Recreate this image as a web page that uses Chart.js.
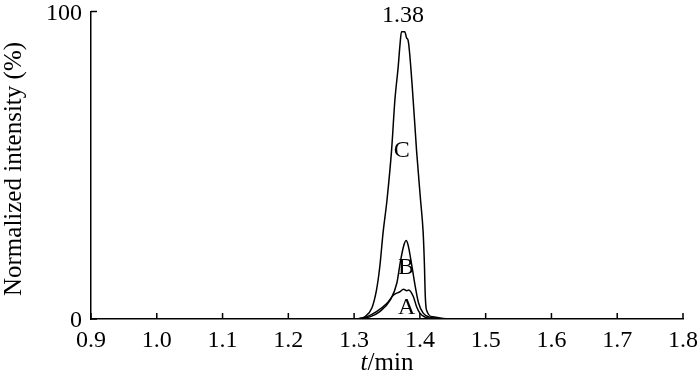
<!DOCTYPE html>
<html>
<head>
<meta charset="utf-8">
<title>Normalized intensity chromatogram</title>
<script src="https://cdn.jsdelivr.net/npm/chart.js"></script>
<style>
  html, body { margin: 0; padding: 0; background: #fff; }
  #wrap { width: 700px; height: 386px; }
</style>
</head>
<body>
<div id="wrap"><canvas id="peakChart"></canvas></div>
<script>
// retention times (min) and normalized intensity (%)
const timeA = [1.305, 1.319, 1.334, 1.350, 1.360, 1.370, 1.375, 1.380, 1.383, 1.390, 1.395, 1.400, 1.408, 1.418, 1.430];
const valueA = [0, 0.7, 2.4, 5.1, 7.8, 8.9, 9.7, 9.2, 9.4, 7.3, 4.0, 1.9, 0.6, 0.1, 0];

const timeB = [1.305, 1.313, 1.324, 1.339, 1.355, 1.365, 1.370, 1.375, 1.379, 1.382, 1.388, 1.393, 1.398, 1.405, 1.415, 1.431, 1.440];
const valueB = [0, 0.3, 0.7, 2.4, 6.2, 11.7, 18.2, 23.5, 25.5, 24.1, 17.0, 10.5, 5.2, 1.9, 0.6, 0.1, 0];

const timeC = [1.305, 1.316, 1.327, 1.334, 1.339, 1.344, 1.350, 1.357, 1.362, 1.367, 1.370, 1.372, 1.377, 1.380, 1.382, 1.388, 1.395, 1.401, 1.405, 1.407, 1.408, 1.410, 1.420, 1.443];
const valueC = [0, 0.7, 3.6, 9.4, 16.9, 28.0, 38.7, 55.0, 71.2, 82.0, 89.8, 93.4, 93.4, 91.3, 90.7, 76.7, 54.6, 38.7, 28.0, 16.9, 8.5, 2.9, 0.7, 0];

const xTicks = [0.9, 1.0, 1.1, 1.2, 1.3, 1.4, 1.5, 1.6, 1.7, 1.8];
const yTicks = [0, 100];

// text labels placed at data coordinates
const peakLabels = [
  { text: '1.38', x: 1.3745, y: 98.5 },
  { text: 'C', x: 1.3723, y: 54.6 },
  { text: 'B', x: 1.3789, y: 16.6 },
  { text: 'A', x: 1.3800, y: 3.6 }
];

const serif = '"Liberation Serif", "DejaVu Serif", serif';

function toPoints(times, values) {
  return times.map((t, i) => ({ x: t, y: values[i] }));
}

function lineSet(label, times, values) {
  return {
    label: label,
    data: toPoints(times, values),
    borderColor: '#000',
    borderWidth: 1.5,
    pointRadius: 0,
    fill: false,
    cubicInterpolationMode: 'monotone'
  };
}

// inward tick marks, annotations and axis titles
const decorations = {
  id: 'decorations',
  afterDraw(chart) {
    const ctx = chart.ctx;
    const xs = chart.scales.x;
    const ys = chart.scales.y;
    const area = chart.chartArea;
    ctx.save();
    ctx.strokeStyle = '#000';
    ctx.lineWidth = 1.5;
    ctx.beginPath();
    xTicks.forEach(v => {
      const px = xs.getPixelForValue(v);
      ctx.moveTo(px, area.bottom);
      ctx.lineTo(px, area.bottom - 6);
    });
    yTicks.forEach(v => {
      const py = ys.getPixelForValue(v);
      ctx.moveTo(area.left, py);
      ctx.lineTo(area.left + 6, py);
    });
    ctx.stroke();

    ctx.fillStyle = '#000';
    ctx.textAlign = 'center';
    ctx.textBaseline = 'middle';
    ctx.font = '24px ' + serif;
    peakLabels.forEach(l => {
      ctx.fillText(l.text, xs.getPixelForValue(l.x), ys.getPixelForValue(l.y));
    });

    // x title: italic t + /min
    const cx = (area.left + area.right) / 2;
    ctx.textBaseline = 'alphabetic';
    ctx.textAlign = 'left';
    ctx.font = 'italic 25px ' + serif;
    const wT = ctx.measureText('t').width;
    ctx.font = '25px ' + serif;
    const wRest = ctx.measureText('/min').width;
    const startX = cx - (wT + wRest) / 2;
    ctx.font = 'italic 25px ' + serif;
    ctx.fillText('t', startX, 370);
    ctx.font = '25px ' + serif;
    ctx.fillText('/min', startX + wT, 370);

    // y title
    ctx.translate(14, 169);
    ctx.rotate(-Math.PI / 2);
    ctx.textAlign = 'center';
    ctx.textBaseline = 'middle';
    ctx.font = '25px ' + serif;
    ctx.fillText('Normalized intensity (%)', 0, 0);
    ctx.restore();
  }
};

new Chart(document.getElementById('peakChart'), {
  type: 'line',
  data: {
    datasets: [
      lineSet('A', timeA, valueA),
      lineSet('B', timeB, valueB),
      lineSet('C', timeC, valueC)
    ]
  },
  options: {
    responsive: true,
    maintainAspectRatio: false,
    animation: false,
    layout: { padding: { top: 11.5, right: 17, left: 0, bottom: 0 } },
    plugins: {
      legend: { display: false },
      tooltip: { enabled: false }
    },
    scales: {
      x: {
        type: 'linear',
        min: 0.9,
        max: 1.8,
        afterFit(scale) {
          scale.height = 67;
          scale.paddingLeft = 0;
          scale.paddingRight = 0;
        },
        afterBuildTicks(scale) { scale.ticks = xTicks.map(v => ({ value: v })); },
        grid: { display: true, drawOnChartArea: false, drawTicks: false },
        border: { display: true, color: '#000', width: 1.5 },
        ticks: {
          color: '#000',
          padding: 7,
          maxRotation: 0,
          autoSkip: false,
          font: { family: serif, size: 24 },
          callback: v => Number(v).toFixed(1)
        }
      },
      y: {
        min: 0,
        max: 100,
        afterFit(scale) {
          scale.width = 91;
          scale.paddingTop = 0;
          scale.paddingBottom = 0;
        },
        afterBuildTicks(scale) { scale.ticks = yTicks.map(v => ({ value: v })); },
        grid: { display: true, drawOnChartArea: false, drawTicks: false },
        border: { display: true, color: '#000', width: 1.5 },
        ticks: {
          color: '#000',
          padding: 9,
          labelOffset: 2,
          font: { family: serif, size: 24 },
          callback: v => String(v)
        }
      }
    }
  },
  plugins: [decorations]
});
</script>
</body>
</html>
